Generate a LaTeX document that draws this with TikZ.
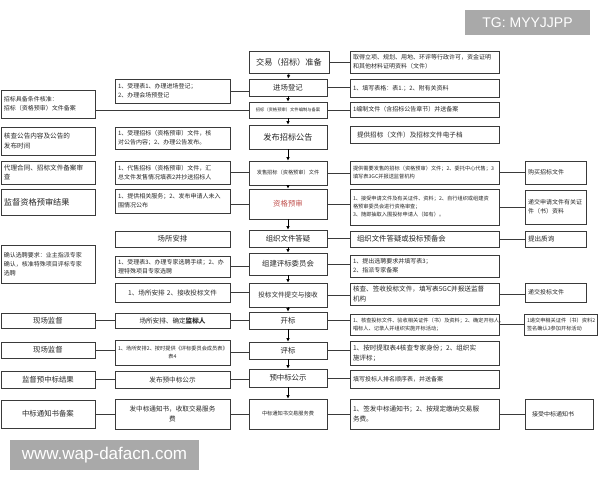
\documentclass[tikz,border=0pt]{standalone}
\usepackage{fontspec}
\setmainfont{Noto Sans CJK SC}
\newfontfamily\wmfont{Liberation Sans}
\usetikzlibrary{arrows.meta}
\definecolor{bord}{HTML}{3A3A3A}
\definecolor{redt}{HTML}{C0504D}
\definecolor{wmgray}{HTML}{A9A9A9}
\newcommand\Bx[7][]{\node[bx,minimum width={(#5-#3)*1pt},minimum height={(#6-#4)*1pt},text width={(#5-#3-6)*1pt},#1] (#2) at ({(#3+#5)/2},{(#4+#6)/2}) {#7};}
\tikzset{
  bx/.style={draw=bord,line width=0.8pt,inner sep=1.5pt,align=center,text=black!85},
  lf/.style={align=left},
  fa/.style={font=\fontsize{4.3}{5.5}\selectfont},
  fb/.style={font=\fontsize{5.2}{8}\selectfont},
  fc/.style={font=\fontsize{6}{9}\selectfont},
  fd/.style={font=\fontsize{6.6}{9.5}\selectfont},
  fe/.style={font=\fontsize{7.4}{10}\selectfont},
  ff/.style={font=\fontsize{8.2}{10}\selectfont},
  conn/.style={draw=bord,line width=0.8pt},
  arr/.style={draw=black,line width=0.8pt,-{Latex[length=3.5pt,width=3.5pt]}}
}
\begin{document}
\begin{tikzpicture}[x=1pt,y=-1pt]
\useasboundingbox (0,0) rectangle (600,480);
% left column 1
\Bx[fc,lf]{a1}{1}{90}{95}{118}{招标具备条件核准：\\招标（资格预审）文件备案}
\Bx[fd,lf]{a2}{1}{127}{95}{155}{核查公告内容及公告的\\发布时间}
\Bx[fd,lf]{a3}{1}{161}{95}{184}{代理合同、招标文件备案审\\查}
\Bx[ff,lf]{a4}{1}{189}{95}{215}{监督资格预审结果}
\Bx[fc,lf]{a5}{1}{245}{95}{283}{确认选聘要求：业主指派专家\\确认，核准特殊项目评标专家\\选聘}
\Bx[fe]{a6}{1}{313}{95}{328}{现场监督}
\Bx[fe]{a7}{1}{342}{95}{358}{现场监督}
\Bx[fe]{a8}{1}{371}{95}{388}{监督预中标结果}
\Bx[fe]{a9}{1}{400}{95}{428}{中标通知书备案}
% left column 2
\Bx[fc,lf]{b1}{115}{79}{230}{103}{1、受理表1、办理进场登记；\\2、办理会场预登记}
\Bx[fc,lf]{b2}{115}{127}{230}{149}{1、受理招标（资格预审）文件，核\\对公告内容；2、办理公告发布。}
\Bx[fc,lf]{b3}{115}{161}{230}{184}{1、代售招标（资格预审）文件，汇\\总文件发售情况填表2并抄送招标人}
\Bx[fc,lf]{b4}{115}{189}{230}{213}{1、提供相关服务；2、发布申请人未入\\围情况公布}
\Bx[fe]{b5}{115}{231}{230}{247}{场所安排}
\Bx[fc,lf]{b6}{115}{256}{230}{277}{1、受理表3、办理专家选聘手续；2、办\\理特殊项目专家选聘}
\Bx[fd]{b7}{115}{283}{230}{302}{1、场所安排 2、接收投标文件}
\Bx[fd]{b8}{115}{313}{230}{328}{场所安排、确定\textbf{监标人}}
\Bx[fb]{b9}{115}{340}{230}{365}{1、场所安排2、按时提供《评标委员会成员表》\\表4}
\Bx[fd]{b10}{115}{371}{230}{388}{发布预中标公示}
\Bx[fd]{b11}{115}{399}{230}{429}{发中标通知书，收取交易服务\\费}
% center column
\Bx[ff]{c1}{249}{51}{329}{73}{交易（招标）准备}
\Bx[fe]{c2}{249}{79}{327}{96}{进场登记}
\Bx[fa]{c3}{249}{102}{327}{118}{招标（资格预审）文件编制与备案}
\Bx[ff]{c4}{249}{125}{327}{149}{发布招标公告}
\Bx[fb]{c5}{249}{161}{327}{185}{发售招标（资格预审）文件}
\Bx[fe,text=redt]{c6}{249}{189}{327}{219}{资格预审}
\Bx[fe]{c7}{249}{230}{327}{247}{组织文件答疑}
\Bx[fe]{c8}{249}{253}{327}{275}{组建评标委员会}
\Bx[fd]{c9}{249}{283}{327}{307}{投标文件提交与接收}
\Bx[fe]{c10}{249}{312}{327}{329}{开标}
\Bx[fe]{c11}{249}{342}{327}{359}{评标}
\Bx[fe]{c12}{249}{369}{327}{387}{预中标公示}
\Bx[fb]{c13}{249}{399}{327}{429}{中标通知书交易服务费}
% right column 1
\Bx[fc,lf]{d1}{350}{51}{499}{73}{取得立项、规划、用地、环评等行政许可，资金证明\\和其他材料证明资料（文件）}
\Bx[fc,lf]{d2}{350}{79}{499}{97}{1、填写表格：表1.；2、附有关资料}
\Bx[fc,lf]{d3}{350}{102}{499}{117}{1编制文件（含招标公告章节）并送备案}
\Bx[fd,lf]{d4}{350}{126}{499}{143}{\hspace{4pt}提供招标（文件）及招标文件电子档}
\Bx[fb,lf]{d5}{350}{161}{499}{184}{提供需要发售的招标（资格预审）文件；2、委托中心代售；3\\填写表3GC并报送监督机构}
\Bx[fb,lf]{d6}{350}{189}{499}{225}{1、接受申请文件及有关证件、资料；2、自行组织或组建资\\格预审委员会进行资格审查；\\3、随即抽取入围投标申请人（如有）。}
\Bx[fe,lf]{d7}{350}{231}{499}{247}{\hspace{4pt}组织文件答疑或投标预备会}
\Bx[fc,lf]{d8}{350}{255}{499}{277}{1、提出选聘要求并填写表3；\\2、指派专家备案}
\Bx[fd,lf]{d9}{350}{283}{499}{305}{核查、签收投标文件，填写表5GC并报送监督\\机构}
\Bx[fb,lf]{d10}{350}{314}{499}{335}{1、核查投标文件、验收相关证件（书）及资料；2、确定开标人、\\唱标人、记录人并组织实施开标活动；}
\Bx[fd,lf]{d11}{350}{341}{499}{365}{1、按时提取表4核查专家身份；2、组织实\\施评标；}
\Bx[fc,lf]{d12}{350}{370}{499}{388}{填写投标人排名顺序表，并送备案}
\Bx[fd,lf]{d13}{350}{399}{499}{429}{1、签发中标通知书；2、按规定缴纳交易服\\务费。}
% right column 2
\Bx[fc,lf]{e1}{525}{161}{586}{184}{购买招标文件}
\Bx[fc,lf]{e2}{525}{190}{586}{224}{递交申请文件有关证\\件（书）资料}
\Bx[fd,lf]{e3}{525}{231}{586}{247}{提出质询}
\Bx[fc,lf]{e4}{525}{283}{586}{302}{递交投标文件}
\Bx[fb,lf]{e5}{524}{314}{597}{335}{1递交申相关证件（书）资料2\\签名确认3参加开标活动}
\Bx[fc,lf]{e6}{525}{399}{593}{429}{\hspace{4pt}接受中标通知书}
% arrows down the centre
\foreach \p/\q in {c1/c2,c2/c3,c3/c4,c4/c5,c5/c6,c6/c7,c7/c8,c8/c9,c9/c10,c10/c11,c11/c12,c12/c13}
  \draw[arr] (\p.south) -- (\q.north);
% connectors
\draw[conn] (c1.east) -- (c1.east -| d1.west);
\draw[conn] (b1.east) -- (b1.east -| c2.west);
\draw[conn] (c2.east) -- (c2.east -| d2.west);
\draw[conn] (c3.west -| a1.east) -- (c3.west);
\draw[conn] (c3.east) -- (c3.east -| d3.west);
\draw[conn] (b3.east) -- (b3.east -| c5.west);
\draw[conn] (c5.east) -- (c5.east -| d5.west);
\draw[conn] (d5.east) -- (d5.east -| e1.west);
\draw[conn] (b4.east |- c6.west) -- (c6.west);
\draw[conn] (c6.east) -- (c6.east -| d6.west);
\draw[conn] (d6.east) -- (d6.east -| e2.west);
\draw[conn] (c7.east) -- (c7.east -| d7.west);
\draw[conn] (d7.east) -- (d7.east -| e3.west);
\draw[conn] (b6.east) -- (b6.east -| c8.west);
\draw[conn] (c8.east) -- (c8.east -| d8.west);
\draw[conn] (b7.east) -- (b7.east -| c9.west);
\draw[conn] (c9.east) -- (c9.east -| d9.west);
\draw[conn] (d9.east) -- (d9.east -| e4.west);
\draw[conn] (a6.east) -- (a6.east -| b8.west);
\draw[conn] (b8.east) -- (b8.east -| c10.west);
\draw[conn] (c10.east) -- (c10.east -| d10.west);
\draw[conn] (d10.east) -- (d10.east -| e5.west);
\draw[conn] (a7.east) -- (a7.east -| b9.west);
\draw[conn] (b9.east) -- (b9.east -| c11.west);
\draw[conn] (c11.east) -- (c11.east -| d11.west);
\draw[conn] (a8.east) -- (a8.east -| b10.west);
\draw[conn] (b10.east) -- (b10.east -| c12.west);
\draw[conn] (c12.east) -- (c12.east -| d12.west);
\draw[conn] (a9.east) -- (a9.east -| b11.west);
\draw[conn] (b11.east) -- (b11.east -| c13.west);
\draw[conn] (c13.east) -- (c13.east -| d13.west);
\draw[conn] (d13.east) -- (d13.east -| e6.west);
% watermarks
\node[fill=wmgray,text=white,font=\wmfont\fontsize{14}{14}\selectfont,minimum width=125pt,minimum height=25pt,inner sep=0pt] (wm1) at (527.5,22.5) {TG: MYYJJPP};
\node[fill=wmgray,text=white,font=\wmfont\fontsize{17}{17}\selectfont,minimum width=189pt,minimum height=30pt,inner sep=0pt] (wm2) at (104.5,455) {www.wap-dafacn.com};
\end{tikzpicture}
\end{document}
